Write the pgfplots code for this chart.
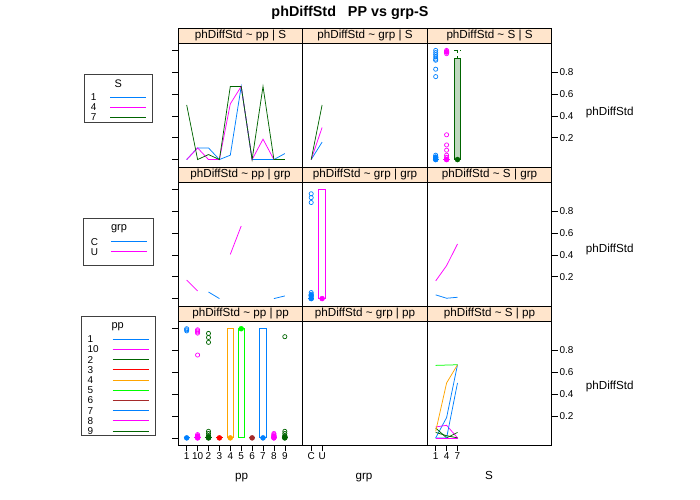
\documentclass[border=0pt]{standalone}
\usepackage{pgfplots}
\pgfplotsset{compat=1.18}
\usepackage{fontspec}
\setmainfont{Liberation Sans}
\definecolor{cB}{HTML}{0080FF}
\definecolor{cM}{HTML}{FF00FF}
\definecolor{cDG}{HTML}{006400}
\definecolor{cR}{HTML}{FF0000}
\definecolor{cO}{HTML}{FFA500}
\definecolor{cG}{HTML}{00FF00}
\definecolor{cBr}{HTML}{A52A2A}
\definecolor{strip}{HTML}{FFE5CC}
\pgfplotsset{
 panel/.style={scale only axis, width=124.5bp, height=124bp, xmin=0.23, xmax=11.65,
   ymin=-0.068, ymax=1.068, axis line style={line width=0.8bp}, tick align=outside,
   major tick length=6bp, tick style={black, line width=0.6bp}, xtick=\empty, ytick=\empty,
   ticklabel style={font=\fontsize{10}{12}\selectfont, inner sep=1.5bp}, /pgf/number format/assume math mode=true,
   anchor=south west},
 leftcol/.style={ytick={0,0.2,0.4,0.6,0.8,1}, yticklabels={}, ytick pos=left},
 rightcol/.style={ytick={0.2,0.4,0.6,0.8}, ytick pos=right, yticklabel pos=right, yticklabels={0.2,0.4,0.6,0.8}},
 ln/.style={line width=0.75bp, mark=none},
 oc/.style={only marks, mark=o, mark size=2.1bp, mark options={line width=0.7bp}},
 fd/.style={only marks, mark=*, mark size=2.5bp},
 bx/.style={line width=1bp, mark=none},
}
\tikzset{lg/.style={line width=1.1bp}}
\begin{document}
\begin{tikzpicture}[x=1bp,y=1bp]
\useasboundingbox (0bp,0bp) rectangle (700bp,500bp);
% ================= ROW 1 (| S) =================
\begin{axis}[panel, leftcol, at={(178.3bp,333bp)}]
\addplot[cB, ln] coordinates {(1,0)(2,0.107)(3,0.107)(4,0)(5,0.04)(6,0.67)(7,0)(8,0)(9,0)(10,0.055)};
\addplot[cM, ln] coordinates {(1,0)(2,0.107)(3,0)(4,0)(5,0.51)(6,0.67)(7,0)(8,0.187)(9,0)(10,0)};
\addplot[cDG, ln] coordinates {(1,0.5)(2,0)(3,0.046)(4,0)(5,0.67)(6,0.67)(7,0)(8,0.67)(9,0)(10,0)};
\end{axis}
\begin{axis}[panel, at={(302.8bp,333bp)}]
\addplot[cB, ln] coordinates {(1,0)(2,0.16)};
\addplot[cM, ln] coordinates {(1,0)(2,0.294)};
\addplot[cDG, ln] coordinates {(1,0)(2,0.5)};
\end{axis}
\begin{axis}[panel, rightcol, at={(427.3bp,333bp)}]
% S = 1
\addplot[cB, bx] coordinates {(0.71,0)(1.29,0)};
\addplot[cB, oc] coordinates {(1,0)(1,0.01)(1,0.025)(1,0.04)(1,0.91)(1,0.92)(1,0.94)(1,0.96)(1,0.98)(1,1.0)(1,0.828)(1,0.76)};
\addplot[cB, fd] coordinates {(1,0)(1,0.02)};
% S = 4
\addplot[cM, bx] coordinates {(1.71,0)(2.29,0)};
\addplot[cM, oc] coordinates {(2,0)(2,0.02)(2,0.04)(2,0.086)(2,0.134)(2,0.227)(2,0.97)(2,0.99)(2,1.0)};
\addplot[cM, fd] coordinates {(2,0)(2,0.985)};
% S = 7
\addplot[cDG, bx, fill=cDG!25] coordinates {(2.71,0)(3.29,0)(3.29,0.923)(2.71,0.923)(2.71,0)};
\addplot[cDG, ln, dashed] coordinates {(3,0.923)(3,1.0)};
\addplot[cDG, ln, dashed] coordinates {(2.71,1.0)(3.29,1.0)};
\addplot[cDG, fd] coordinates {(3,0)};
\end{axis}
% ================= ROW 2 (| grp) =================
\begin{axis}[panel, leftcol, at={(178.3bp,194bp)}]
\addplot[cM, ln] coordinates {(1,0.17)(2,0.07)};
\addplot[cB, ln] coordinates {(3,0.06)(4,0)};
\addplot[cM, ln] coordinates {(5,0.405)(6,0.665)};
\addplot[cB, ln] coordinates {(9,0)(10,0.024)};
\end{axis}
\begin{axis}[panel, at={(302.8bp,194bp)}]
\addplot[cB, bx] coordinates {(0.71,0)(1.29,0)};
\addplot[cB, oc] coordinates {(1,0)(1,0.02)(1,0.04)(1,0.055)(1,0.88)(1,0.925)(1,0.96)};
\addplot[cB, fd] coordinates {(1,0)(1,0.03)};
\addplot[cM, bx] coordinates {(1.71,0)(2.29,0)(2.29,1.0)(1.71,1.0)(1.71,0)};
\addplot[cM, fd] coordinates {(2,0)};
\end{axis}
\begin{axis}[panel, rightcol, at={(427.3bp,194bp)}]
\addplot[cB, ln] coordinates {(1,0.034)(2,0.003)(3,0.012)};
\addplot[cM, ln] coordinates {(1,0.162)(2,0.302)(3,0.5)};
\end{axis}
% ================= ROW 3 (| pp) =================
\begin{axis}[panel, leftcol, at={(178.3bp,54.7bp)}, xtick={1,...,10}, xticklabels={1,10,2,3,4,5,6,7,8,9}, xtick pos=bottom]
% pp1
\addplot[cB, bx] coordinates {(0.71,0)(1.29,0)};
\addplot[cB, oc] coordinates {(1,0.98)(1,0.99)(1,1.0)};
\addplot[cB, fd] coordinates {(1,0)};
% pp10
\addplot[cM, bx] coordinates {(1.71,0)(2.29,0)};
\addplot[cM, oc] coordinates {(2,0)(2,0.01)(2,0.02)(2,0.03)(2,0.759)(2,0.96)(2,0.97)(2,0.98)(2,0.99)};
\addplot[cM, fd] coordinates {(2,0)(2,0.015)};
% pp2
\addplot[cDG, bx] coordinates {(2.71,0)(3.29,0)};
\addplot[cDG, oc] coordinates {(3,0)(3,0.02)(3,0.04)(3,0.06)(3,0.875)(3,0.92)(3,0.957)};
\addplot[cDG, fd] coordinates {(3,0)(3,0.01)};
% pp3
\addplot[cR, bx] coordinates {(3.71,0)(4.29,0)};
\addplot[cR, fd] coordinates {(4,0)};
% pp4
\addplot[cO, bx] coordinates {(4.71,0)(5.29,0)(5.29,1.0)(4.71,1.0)(4.71,0)};
\addplot[cO, fd] coordinates {(5,0)};
% pp5
\addplot[cG, bx] coordinates {(5.71,0)(6.29,0)(6.29,1.0)(5.71,1.0)(5.71,0)};
\addplot[cG, fd] coordinates {(6,1.0)};
% pp6
\addplot[cBr, bx] coordinates {(6.71,0)(7.29,0)};
\addplot[cBr, fd] coordinates {(7,0)};
% pp7
\addplot[cB, bx] coordinates {(7.71,0)(8.29,0)(8.29,1.0)(7.71,1.0)(7.71,0)};
\addplot[cB, fd] coordinates {(8,0)};
% pp8
\addplot[cM, bx] coordinates {(8.71,0)(9.29,0)};
\addplot[cM, oc] coordinates {(9,0)(9,0.01)(9,0.02)(9,0.03)(9,0.04)};
\addplot[cM, fd] coordinates {(9,0)(9,0.015)};
% pp9
\addplot[cDG, bx] coordinates {(9.71,0)(10.29,0)};
\addplot[cDG, oc] coordinates {(10,0)(10,0.02)(10,0.04)(10,0.06)(10,0.927)};
\addplot[cDG, fd] coordinates {(10,0)(10,0.01)};
\end{axis}
\begin{axis}[panel, at={(302.8bp,54.7bp)}, xtick={1,2}, xticklabels={C,U}, xtick pos=bottom]
\addplot[draw=none, mark=none] coordinates {(1,0)(2,0)};
\end{axis}
\begin{axis}[panel, rightcol, at={(427.3bp,54.7bp)}, xtick={1,2,3}, xticklabels={1,4,7}, xtick pos=bottom]
\addplot[cB, ln] coordinates {(1,0)(2,0.186)(3,0.67)};
\addplot[cM, ln] coordinates {(1,0.1)(2,0.115)(3,0)};
\addplot[cDG, ln] coordinates {(1,0.09)(2,0)(3,0.05)};
\addplot[cR, ln] coordinates {(1,0)(2,0)(3,0)};
\addplot[cO, ln] coordinates {(1,0.06)(2,0.503)(3,0.67)};
\addplot[cG, ln] coordinates {(1,0.664)(2,0.667)(3,0.67)};
\addplot[cBr, ln] coordinates {(1,0)(2,0)(3,0)};
\addplot[cB, ln] coordinates {(1,0)(2,0)(3,0.503)};
\addplot[cM, ln] coordinates {(1,0)(2,0)(3,0)};
\addplot[cDG, ln] coordinates {(1,0.05)(2,0.02)(3,0)};
\end{axis}
% ================= STRIPS =================
\begin{scope}[every node/.style={font=\fontsize{11.7}{14}\selectfont, inner sep=0pt}]
\foreach \yb/\cond in {457/S, 318/grp, 178.7/pp}{
  \draw[fill=strip, line width=0.8bp] (178.3bp,\yb bp) rectangle (302.8bp,\yb bp+15bp);
  \draw[fill=strip, line width=0.8bp] (302.8bp,\yb bp) rectangle (427.3bp,\yb bp+15bp);
  \draw[fill=strip, line width=0.8bp] (427.3bp,\yb bp) rectangle (551.8bp,\yb bp+15bp);
  \node at (240.55bp,\yb bp+7.5bp) {phDiffStd \textasciitilde\ pp | \cond};
  \node at (365.05bp,\yb bp+7.5bp) {phDiffStd \textasciitilde\ grp | \cond};
  \node at (489.55bp,\yb bp+7.5bp) {phDiffStd \textasciitilde\ S | \cond};
}
\end{scope}
% ================= TEXT =================
\node[font=\bfseries\fontsize{14.4}{17}\selectfont] at (350bp,487bp) {phDiffStd\ \ \ PP vs grp-S};
\node[anchor=west, font=\fontsize{11.7}{14}\selectfont, inner sep=0pt] at (585.7bp,388bp) {phDiffStd};
\node[anchor=west, font=\fontsize{11.7}{14}\selectfont, inner sep=0pt] at (585.7bp,251bp) {phDiffStd};
\node[anchor=west, font=\fontsize{11.7}{14}\selectfont, inner sep=0pt] at (585.7bp,114bp) {phDiffStd};
\node[anchor=base, inner sep=0pt, font=\fontsize{11.7}{14}\selectfont] at (241.7bp,20.7bp) {pp};
\node[anchor=base, inner sep=0pt, font=\fontsize{11.7}{14}\selectfont] at (364bp,20.7bp) {grp};
\node[anchor=base, inner sep=0pt, font=\fontsize{11.7}{14}\selectfont] at (489bp,20.7bp) {S};
% ================= LEGENDS =================
\begin{scope}[every node/.style={inner sep=0pt, font=\fontsize{10}{12}\selectfont, anchor=west}]
% S
\draw[black!75, line width=0.8bp] (84bp,377.7bp) rectangle (152.7bp,426bp);
\node[anchor=center, font=\fontsize{11}{13}\selectfont] at (118.3bp,416bp) {S};
\node at (90.7bp,402.7bp) {1}; \draw[cB, lg] (110bp,402.5bp) -- (146bp,402.5bp);
\node at (90.7bp,392.7bp) {4}; \draw[cM, lg] (110bp,392.5bp) -- (146bp,392.5bp);
\node at (90.7bp,382.7bp) {7}; \draw[cDG, lg] (110bp,382.5bp) -- (146bp,382.5bp);
% grp
\draw[black!75, line width=0.8bp] (83.3bp,234.3bp) rectangle (153.3bp,281.7bp);
\node[anchor=center, font=\fontsize{11}{13}\selectfont] at (119bp,271bp) {grp};
\node at (90.7bp,258.3bp) {C}; \draw[cB, lg] (111bp,258.5bp) -- (147bp,258.5bp);
\node at (90.7bp,248.3bp) {U}; \draw[cM, lg] (111bp,248.5bp) -- (147bp,248.5bp);
% pp
\draw[black!75, line width=0.8bp] (81.7bp,64.3bp) rectangle (155.7bp,183.3bp);
\node[anchor=center, font=\fontsize{11}{13}\selectfont] at (117.7bp,173.3bp) {pp};
\node at (87.3bp,160.7bp) {1};  \draw[cB, lg]  (112.7bp,160.5bp) -- (149bp,160.5bp);
\node at (87.3bp,150.5bp) {10}; \draw[cM, lg]  (112.7bp,150.5bp) -- (149bp,150.5bp);
\node at (87.3bp,140.3bp) {2};  \draw[cDG, lg] (112.7bp,140.5bp) -- (149bp,140.5bp);
\node at (87.3bp,130.1bp) {3};  \draw[cR, lg]  (112.7bp,130.5bp) -- (149bp,130.5bp);
\node at (87.3bp,119.9bp) {4};  \draw[cO, lg]  (112.7bp,119.5bp) -- (149bp,119.5bp);
\node at (87.3bp,109.7bp) {5};  \draw[cG, lg]  (112.7bp,109.5bp) -- (149bp,109.5bp);
\node at (87.3bp,99.5bp) {6};   \draw[cBr, lg] (112.7bp,99.5bp) -- (149bp,99.5bp);
\node at (87.3bp,89.3bp) {7};   \draw[cB, lg]  (112.7bp,89.5bp) -- (149bp,89.5bp);
\node at (87.3bp,79.1bp) {8};   \draw[cM, lg]  (112.7bp,79.5bp) -- (149bp,79.5bp);
\node at (87.3bp,68.9bp) {9};   \draw[cDG, lg] (112.7bp,68.5bp) -- (149bp,68.5bp);
\end{scope}
\end{tikzpicture}
\end{document}
